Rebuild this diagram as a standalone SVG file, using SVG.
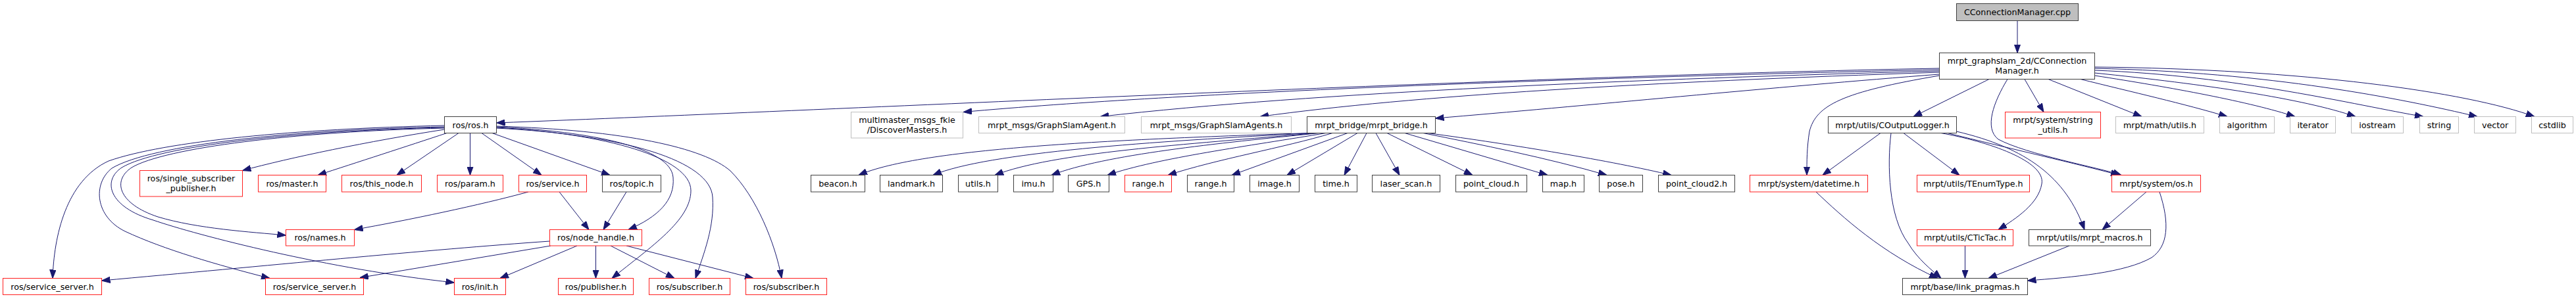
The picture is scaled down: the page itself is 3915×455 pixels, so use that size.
<svg xmlns="http://www.w3.org/2000/svg" width="3915" height="455" viewBox="0 0 3915 455">
<defs>
<marker id="ah" viewBox="0 0 13 10" refX="13" refY="5" markerWidth="13" markerHeight="10" markerUnits="userSpaceOnUse" orient="auto">
<path d="M0,0.3 L13,5 L0,9.7 z" fill="#191970" stroke="#191970" stroke-width="1"/>
</marker>
</defs>
<style>
.e{fill:none;stroke:#191970;stroke-width:1;marker-end:url(#ah)}
.n rect{fill:#fff;stroke-width:1}
.k rect{stroke:#404040}
.r rect{stroke:#ff2020}
.g rect{stroke:#bfbfbf}
.root rect{fill:#bfbfbf;stroke:#404040}
text{font-family:"DejaVu Sans","Liberation Sans",sans-serif;font-size:12.7px;text-anchor:middle;fill:#000}
</style>
<rect x="0" y="0" width="3915" height="455" fill="#fff"/>
<g id="edges">
<path class="e" d="M3066,32 L3066,80.5"/>
<path class="e" d="M2947.5,104 C2300,116 1300,166 754.5,187"/>
<path class="e" d="M2947.5,106 C2400,118 1800,140 1464,170.5"/>
<path class="e" d="M2947.5,108 C2500,120 2000,140 1672,177.5"/>
<path class="e" d="M2947.5,110 C2500,125 2150,145 1915,177.5"/>
<path class="e" d="M2947.5,113 C2700,132 2400,162 2181.5,180"/>
<path class="e" d="M3023,120.5 L2908,177.5"/>
<path class="e" d="M2947.5,115 C2800,140 2760,160 2750,200 C2746,225 2746,245 2746,266.5"/>
<path class="e" d="M3077,120.5 L3106,170.5"/>
<path class="e" d="M3113,120.5 L3255,177.5"/>
<path class="e" d="M3051,120.5 C3030,155 3015,195 3037,212 C3080,235 3190,255 3224,266.5"/>
<path class="e" d="M3162,120.5 C3240,140 3320,158 3385,177.5"/>
<path class="e" d="M3183.5,115 C3300,133 3420,155 3488,177.5"/>
<path class="e" d="M3183.5,111 C3350,128 3500,150 3580,177.5"/>
<path class="e" d="M3183.5,107 C3400,115 3580,160 3683,177.5"/>
<path class="e" d="M3183.5,104 C3450,110 3650,150 3765,177.5"/>
<path class="e" d="M3183.5,102 C3500,105 3750,140 3852,177.5"/>
<path class="e" d="M2858,202.5 L2770,266.5"/>
<path class="e" d="M2874,202.5 C2868,250 2870,330 2900,370 C2915,395 2935,410 2950,423.5"/>
<path class="e" d="M2893,202.5 L2978,266.5"/>
<path class="e" d="M2950,202.5 C3020,215 3110,245 3103,280 C3098,310 3065,332 3037,349.5"/>
<path class="e" d="M2960,202.5 C3050,225 3160,250 3221,266.5"/>
<path class="e" d="M2973.5,200 C3080,225 3140,270 3168,349.5"/>
<path class="e" d="M2760,292 C2800,330 2860,385 2945,423.5"/>
<path class="e" d="M2986.5,374 L2986.5,423.5"/>
<path class="e" d="M3145,374 L3022,423.5"/>
<path class="e" d="M3262,292 L3195,349.5"/>
<path class="e" d="M3282,292 C3298,340 3295,375 3270,392 C3230,415 3150,422 3081.5,427"/>
<path class="e" d="M2077,202.5 L2043,266.5"/>
<path class="e" d="M2091,202.5 L2127,266.5"/>
<path class="e" d="M2108,202.5 L2238,266.5"/>
<path class="e" d="M2135,202.5 L2352,266.5"/>
<path class="e" d="M2163,202.5 C2250,220 2350,240 2442,266.5"/>
<path class="e" d="M2170,202.5 C2300,220 2450,245 2540,266.5"/>
<path class="e" d="M2063,202.5 L1956,266.5"/>
<path class="e" d="M2048,202.5 L1872,266.5"/>
<path class="e" d="M2025,202.5 C1950,225 1850,242 1775,266.5"/>
<path class="e" d="M2015,202.5 C1900,222 1760,240 1683,266.5"/>
<path class="e" d="M2005,202.5 C1850,218 1680,235 1598,266.5"/>
<path class="e" d="M2000,202.5 C1800,220 1600,232 1512,266.5"/>
<path class="e" d="M1995,202.5 C1750,215 1500,232 1418,266.5"/>
<path class="e" d="M1990,202.5 C1700,212 1400,225 1305,266.5"/>
<path class="e" d="M675.5,197 C560,215 440,240 368.5,259.5"/>
<path class="e" d="M679,202.5 C620,222 540,248 483,266.5"/>
<path class="e" d="M697,202.5 L603,266.5"/>
<path class="e" d="M714.5,202.5 L714.5,266.5"/>
<path class="e" d="M732,202.5 L823,266.5"/>
<path class="e" d="M748,202.5 L927,266.5"/>
<path class="e" d="M754.5,193 C900,200 1020,225 1023,270 C1026,305 1000,330 955,349.5"/>
<path class="e" d="M754.5,194 C920,203 1050,240 1050,290 C1050,335 990,375 930,423.5"/>
<path class="e" d="M754.5,195 C950,205 1080,245 1083,300 C1086,345 1070,385 1057,423.5"/>
<path class="e" d="M754.5,192 C950,198 1070,225 1110,260 C1150,300 1178,370 1188,423.5"/>
<path class="e" d="M675.5,191 C450,196 250,215 165,245 C100,275 82,360 80,423.5"/>
<path class="e" d="M675.5,193 C450,197 230,220 170,256 C140,280 145,330 190,352 C250,380 330,403 410,423.5"/>
<path class="e" d="M675.5,194 C450,199 240,222 185,255 C155,275 165,315 233,335 C300,358 500,410 690.5,430"/>
<path class="e" d="M675.5,195 C450,200 250,225 200,255 C170,275 180,310 240,330 C300,348 380,353 434.5,358"/>
<path class="e" d="M835.5,367 C650,380 400,405 154.5,427"/>
<path class="e" d="M837,374 L547,422.5"/>
<path class="e" d="M877,374 L760,423.5"/>
<path class="e" d="M905.5,374 L905.5,423.5"/>
<path class="e" d="M928,374 L1025,423.5"/>
<path class="e" d="M952,374 L1145,423.5"/>
<path class="e" d="M803,292 C730,312 620,335 538.5,349.5"/>
<path class="e" d="M850,292 L895,349.5"/>
<path class="e" d="M952,292 L917,349.5"/>
</g>
<g id="n_root" class="n root"><rect x="2973.5" y="5.5" width="185" height="26"/><text x="3066" y="23">CConnectionManager.cpp</text></g>
<g id="n_ccm" class="n k"><rect x="2947.5" y="80.5" width="236" height="40"/><text x="3065.5" y="97">mrpt_graphslam_2d/CConnection</text><text x="3065.5" y="112">Manager.h</text></g>
<g id="n_rosros" class="n k"><rect x="675.5" y="177.5" width="79" height="25"/><text x="715" y="194.5">ros/ros.h</text></g>
<g id="n_discover" class="n g"><rect x="1293.5" y="170.5" width="170" height="39.5"/><text x="1378.5" y="186.5">multimaster_msgs_fkie</text><text x="1378.5" y="201.5">/DiscoverMasters.h</text></g>
<g id="n_gsa" class="n g"><rect x="1487.5" y="177.5" width="222" height="25"/><text x="1598.5" y="194.5">mrpt_msgs/GraphSlamAgent.h</text></g>
<g id="n_gsas" class="n g"><rect x="1734.5" y="177.5" width="228" height="25"/><text x="1848.5" y="194.5">mrpt_msgs/GraphSlamAgents.h</text></g>
<g id="n_bridge" class="n k"><rect x="1986.5" y="177.5" width="195" height="25"/><text x="2084" y="194.5">mrpt_bridge/mrpt_bridge.h</text></g>
<g id="n_logger" class="n k"><rect x="2778.5" y="177.5" width="195" height="25"/><text x="2876" y="194.5">mrpt/utils/COutputLogger.h</text></g>
<g id="n_strutils" class="n r"><rect x="3047.5" y="170.5" width="145" height="39.5"/><text x="3120" y="186.5">mrpt/system/string</text><text x="3120" y="201.5">_utils.h</text></g>
<g id="n_mathutils" class="n g"><rect x="3215.5" y="177.5" width="134" height="25"/><text x="3282.5" y="194.5">mrpt/math/utils.h</text></g>
<g id="n_algorithm" class="n g"><rect x="3373.5" y="177.5" width="83" height="25"/><text x="3415" y="194.5">algorithm</text></g>
<g id="n_iterator" class="n g"><rect x="3480.5" y="177.5" width="69" height="25"/><text x="3515" y="194.5">iterator</text></g>
<g id="n_iostream" class="n g"><rect x="3573.5" y="177.5" width="79" height="25"/><text x="3613" y="194.5">iostream</text></g>
<g id="n_string" class="n g"><rect x="3677.5" y="177.5" width="59" height="25"/><text x="3707" y="194.5">string</text></g>
<g id="n_vector" class="n g"><rect x="3760.5" y="177.5" width="63" height="25"/><text x="3792" y="194.5">vector</text></g>
<g id="n_cstdlib" class="n g"><rect x="3847.5" y="177.5" width="63" height="25"/><text x="3879" y="194.5">cstdlib</text></g>
<g id="n_ssp" class="n r"><rect x="212.5" y="259.5" width="156" height="39.5"/><text x="290.5" y="275.5">ros/single_subscriber</text><text x="290.5" y="290.5">_publisher.h</text></g>
<g id="n_master" class="n r"><rect x="392.5" y="266.5" width="103" height="25.5"/><text x="444" y="283.8">ros/master.h</text></g>
<g id="n_thisnode" class="n r"><rect x="519.5" y="266.5" width="121" height="25.5"/><text x="580" y="283.8">ros/this_node.h</text></g>
<g id="n_param" class="n r"><rect x="664.5" y="266.5" width="100" height="25.5"/><text x="714.5" y="283.8">ros/param.h</text></g>
<g id="n_service" class="n r"><rect x="788.5" y="266.5" width="103" height="25.5"/><text x="840" y="283.8">ros/service.h</text></g>
<g id="n_topic" class="n k"><rect x="915.5" y="266.5" width="89" height="25.5"/><text x="960" y="283.8">ros/topic.h</text></g>
<g id="n_beacon" class="n k"><rect x="1232.5" y="266.5" width="82" height="25.5"/><text x="1273.5" y="283.8">beacon.h</text></g>
<g id="n_landmark" class="n k"><rect x="1337.5" y="266.5" width="95" height="25.5"/><text x="1385" y="283.8">landmark.h</text></g>
<g id="n_utils" class="n k"><rect x="1456.5" y="266.5" width="60" height="25.5"/><text x="1486.5" y="283.8">utils.h</text></g>
<g id="n_imu" class="n k"><rect x="1540.5" y="266.5" width="60" height="25.5"/><text x="1570.5" y="283.8">imu.h</text></g>
<g id="n_gps" class="n k"><rect x="1623.5" y="266.5" width="62" height="25.5"/><text x="1654.5" y="283.8">GPS.h</text></g>
<g id="n_range1" class="n r"><rect x="1709.5" y="266.5" width="71" height="25.5"/><text x="1745" y="283.8">range.h</text></g>
<g id="n_range2" class="n k"><rect x="1804.5" y="266.5" width="71" height="25.5"/><text x="1840" y="283.8">range.h</text></g>
<g id="n_image" class="n k"><rect x="1899.5" y="266.5" width="75" height="25.5"/><text x="1937" y="283.8">image.h</text></g>
<g id="n_time" class="n k"><rect x="1998.5" y="266.5" width="64" height="25.5"/><text x="2030.5" y="283.8">time.h</text></g>
<g id="n_laserscan" class="n k"><rect x="2085.5" y="266.5" width="103" height="25.5"/><text x="2137" y="283.8">laser_scan.h</text></g>
<g id="n_pointcloud" class="n k"><rect x="2212.5" y="266.5" width="108" height="25.5"/><text x="2266.5" y="283.8">point_cloud.h</text></g>
<g id="n_map" class="n k"><rect x="2344.5" y="266.5" width="63" height="25.5"/><text x="2376" y="283.8">map.h</text></g>
<g id="n_pose" class="n k"><rect x="2430.5" y="266.5" width="66" height="25.5"/><text x="2463.5" y="283.8">pose.h</text></g>
<g id="n_pointcloud2" class="n k"><rect x="2520.5" y="266.5" width="116" height="25.5"/><text x="2578.5" y="283.8">point_cloud2.h</text></g>
<g id="n_datetime" class="n r"><rect x="2659.5" y="266.5" width="179" height="25.5"/><text x="2749" y="283.8">mrpt/system/datetime.h</text></g>
<g id="n_tenum" class="n r"><rect x="2913.5" y="266.5" width="171" height="25.5"/><text x="2999" y="283.8">mrpt/utils/TEnumType.h</text></g>
<g id="n_os" class="n r"><rect x="3209.5" y="266.5" width="135" height="25.5"/><text x="3277" y="283.8">mrpt/system/os.h</text></g>
<g id="n_names" class="n r"><rect x="434.5" y="349.5" width="104" height="24.5"/><text x="486.5" y="366.3">ros/names.h</text></g>
<g id="n_nodehandle" class="n r"><rect x="835.5" y="349.5" width="140" height="24.5"/><text x="905.5" y="366.3">ros/node_handle.h</text></g>
<g id="n_tictac" class="n r"><rect x="2913.5" y="349.5" width="146" height="24.5"/><text x="2986.5" y="366.3">mrpt/utils/CTicTac.h</text></g>
<g id="n_macros" class="n k"><rect x="3083.5" y="349.5" width="185" height="24.5"/><text x="3176" y="366.3">mrpt/utils/mrpt_macros.h</text></g>
<g id="n_ss1" class="n r"><rect x="4.5" y="423.5" width="150" height="25"/><text x="79.5" y="440.5">ros/service_server.h</text></g>
<g id="n_ss2" class="n r"><rect x="403.5" y="423.5" width="149" height="25"/><text x="478" y="440.5">ros/service_server.h</text></g>
<g id="n_init" class="n r"><rect x="690.5" y="423.5" width="78" height="25"/><text x="729.5" y="440.5">ros/init.h</text></g>
<g id="n_publisher" class="n r"><rect x="848.5" y="423.5" width="114" height="25"/><text x="905.5" y="440.5">ros/publisher.h</text></g>
<g id="n_sub1" class="n r"><rect x="986.5" y="423.5" width="123" height="25"/><text x="1048" y="440.5">ros/subscriber.h</text></g>
<g id="n_sub2" class="n r"><rect x="1133.5" y="423.5" width="123" height="25"/><text x="1195" y="440.5">ros/subscriber.h</text></g>
<g id="n_pragmas" class="n k"><rect x="2891.5" y="423.5" width="190" height="25"/><text x="2986.5" y="440.5">mrpt/base/link_pragmas.h</text></g>
</svg>
